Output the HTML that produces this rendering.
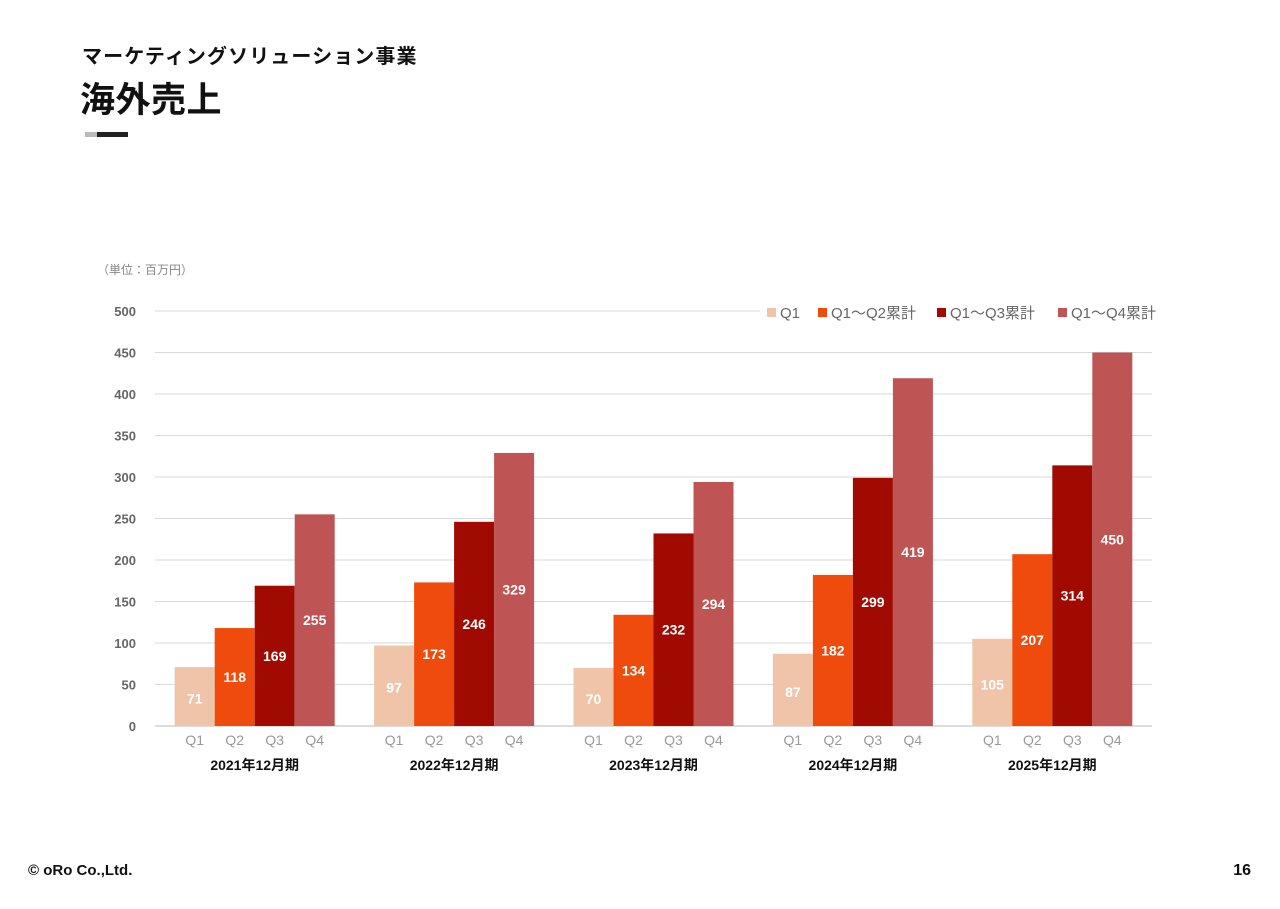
<!DOCTYPE html>
<html><head><meta charset="utf-8"><style>
body{margin:0;background:#fff;width:1280px;height:904px;overflow:hidden;font-family:"Liberation Sans","Noto Sans CJK JP",sans-serif;}
</style></head><body>
<svg width="1280" height="904" xmlns="http://www.w3.org/2000/svg">
<text x="82" y="63" font-size="20" font-weight="bold" fill="#111" letter-spacing="1.1" font-family="Liberation Sans,Noto Sans CJK JP,sans-serif">マーケティングソリューション事業</text>
<text x="80" y="112" font-size="35" font-weight="bold" fill="#111" letter-spacing="0.5" font-family="Liberation Sans,Noto Sans CJK JP,sans-serif">海外売上</text>
<rect x="85" y="132" width="12" height="5" fill="#bbb"/>
<rect x="97" y="132" width="31" height="5" fill="#222"/>
<text x="97" y="274" font-size="12" fill="#888" font-family="Liberation Sans,Noto Sans CJK JP,sans-serif">（単位：百万円）</text>
<g id="chart"></g>
<text x="28" y="875" font-size="15" font-weight="bold" fill="#111">© oRo Co.,Ltd.</text>
<text x="1251" y="875" font-size="16" font-weight="bold" fill="#111" text-anchor="end">16</text>
</svg>
<script>
const categories=["2021年12月期","2022年12月期","2023年12月期","2024年12月期","2025年12月期"];
const seriesNames=["Q1","Q1〜Q2累計","Q1〜Q3累計","Q1〜Q4累計"];
const q1=[71,97,70,87,105];
const q2=[118,173,134,182,207];
const q3=[169,246,232,299,314];
const q4=[255,329,294,419,450];
const yTicks=[0,50,100,150,200,250,300,350,400,450,500];
const subLabels=["Q1","Q2","Q3","Q4"];
const colors=["#f0c4a8","#ee4b0c","#a00a00","#bf5454"];
const NS="http://www.w3.org/2000/svg";
const g=document.getElementById('chart');
const x0=155,x1=1152,y0=726,yTop=311,ymax=500;
const y=v=>y0-(v/ymax)*(y0-yTop);
const gw=(x1-x0)/categories.length, bw=40;
function el(t,a,txt){const e=document.createElementNS(NS,t);for(const k in a)e.setAttribute(k,a[k]);if(txt!==undefined)e.textContent=txt;g.appendChild(e);return e;}
yTicks.forEach(t=>{
 const l=el('line',{x1:x0,x2:x1,y1:y(t),y2:y(t),stroke:t===0?'#bbb':'#d9d9d9','stroke-width':1});
 
 
 const tx=el('text',{x:136,y:y(t)+5,'font-size':13,'font-weight':'bold',fill:'#666','text-anchor':'end'},t);
 
 
});
const series=[q1,q2,q3,q4];
categories.forEach((c,i)=>{
 const start=x0+i*gw+(gw-4*bw)/2;
 series.forEach((s,j)=>{
  const v=s[i],bx=start+j*bw;
  const r=el('rect',{x:bx,y:y(v),width:bw,height:y0-y(v),fill:colors[j]});
  
  
  const ly=y(v)+(y0-y(v))/2+(j===0?7:5);
  const lt=el('text',{x:bx+bw/2,y:ly,'font-size':14,'font-weight':'bold',fill:'#fff','text-anchor':'middle'},v);
  
  
  const st=el('text',{x:bx+bw/2,y:745,'font-size':14,fill:'#999','text-anchor':'middle'},subLabels[j]);
  
  
 });
 const ct=el('text',{x:start+2*bw,y:770,'font-size':14,'font-weight':'bold',fill:'#111','text-anchor':'middle','font-family':'Liberation Sans,Noto Sans CJK JP,sans-serif'},c);
 
 
});
const bg=el('rect',{x:760,y:302,width:410,height:20,fill:'#fff'});


const lx=[767,818,937,1058];
seriesNames.forEach((n,j)=>{
 const s=el('rect',{x:lx[j],y:308,width:9,height:9,fill:colors[j]});
 
 
 const t=el('text',{x:lx[j]+13,y:318,'font-size':15,fill:'#666','font-family':'Liberation Sans,Noto Sans CJK JP,sans-serif'},n);
 
 
});
</script>
</body></html>
